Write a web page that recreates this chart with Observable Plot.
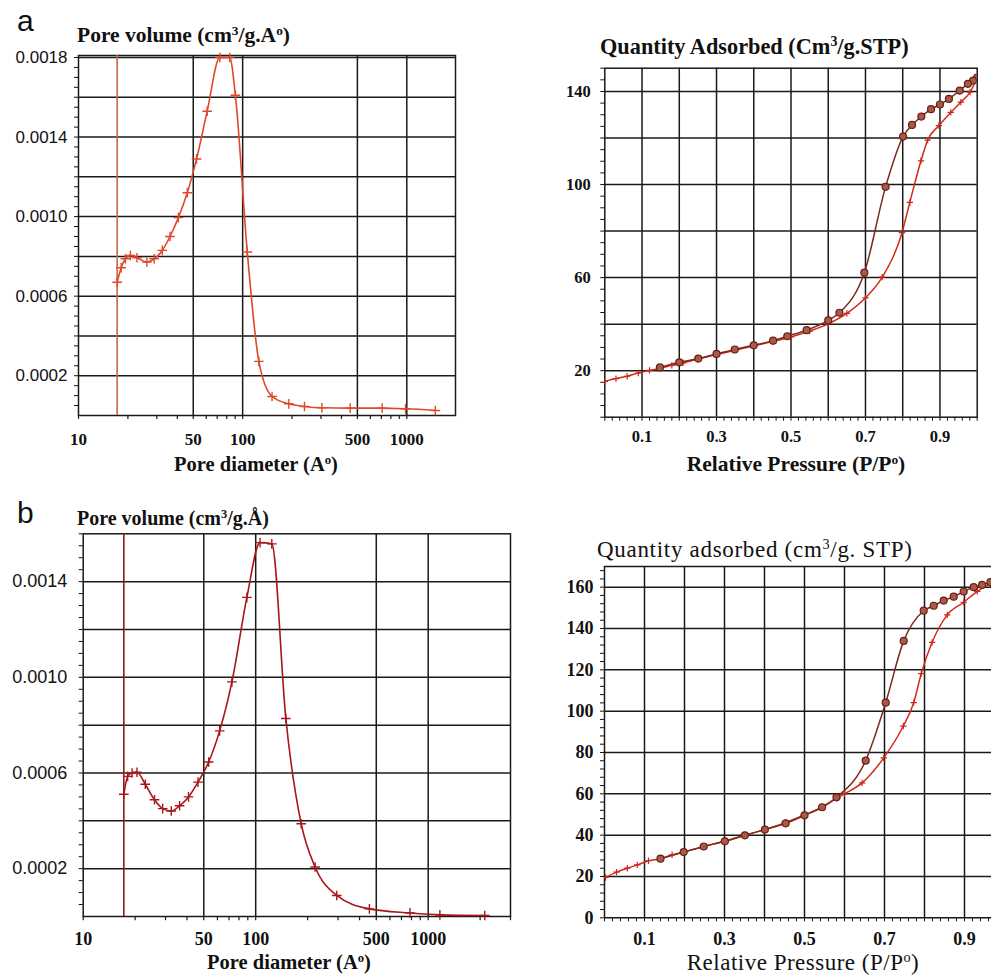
<!DOCTYPE html>
<html><head><meta charset="utf-8">
<script src="https://cdn.jsdelivr.net/npm/d3@7"></script>
<script src="https://cdn.jsdelivr.net/npm/@observablehq/plot@0.6"></script>
<style>
html,body{margin:0;padding:0;background:#fff;overflow:hidden}
#fig{position:relative;width:991px;height:975px;overflow:hidden;background:#fff}
.panel{position:absolute}
.panel svg{max-width:none !important;background:transparent !important;display:block}
.lbl{position:absolute;white-space:nowrap;line-height:1;color:#111;width:max-content}
.lbl sup{font-size:62%;vertical-align:0.55em;line-height:0}
.sans-y g[aria-label^="y-axis"] text{font-family:"Liberation Sans",Arial,sans-serif;font-weight:normal}
</style></head><body><div id="fig"></div>
<script>
// ---------- DATA ----------
// Panel a, pore size distribution
const aPoreDiameter = [17.2, 18.2, 19.3, 20.7, 22.7, 26.1, 28.9, 32.4, 36.1, 40.6, 46.0, 52.4, 60.8, 72.6, 83.4, 90.3, 106.7, 125.5, 151, 191, 238, 304, 452, 708, 982, 1493];
const aPoreVolume = [0.00067, 0.000743, 0.000788, 0.000805, 0.000793, 0.000771, 0.000788, 0.00083, 0.0009, 0.000995, 0.00112, 0.00129, 0.00153, 0.0018, 0.0018, 0.00161, 0.000822, 0.000272, 0.0000956, 0.0000587, 0.0000453, 0.0000386, 0.0000369, 0.0000369, 0.0000336, 0.0000252];
// Panel b, pore size distribution
const bPoreDiameter = [17.2, 18.1, 19.2, 20.5, 22.9, 25.9, 28.9, 32.4, 36.2, 40.8, 46.3, 53.4, 61.8, 72.8, 88.9, 106, 124, 149.5, 183.5, 221, 295, 456, 784, 1169, 2128];
const bPoreVolume = [0.000511, 0.000586, 0.0006, 0.000603, 0.000553, 0.000488, 0.000451, 0.000441, 0.000463, 0.0005, 0.000562, 0.000646, 0.000776, 0.000981, 0.001334, 0.001563, 0.001558, 0.000828, 0.000388, 0.000207, 0.000088, 0.000032, 0.000015, 0.000007, 0.000004];
// Panel a, isotherm
const aAdsP = [0.0, 0.03, 0.06, 0.09, 0.12, 0.15, 0.18, 0.21, 0.25, 0.30, 0.35, 0.40, 0.45, 0.50, 0.55, 0.60, 0.65, 0.70, 0.745, 0.798, 0.819, 0.849, 0.867, 0.897, 0.929, 0.956, 0.981, 1.0];
const aAdsQ = [15.4, 16.6, 17.6, 19.0, 20.1, 21.1, 22.3, 23.3, 25.0, 26.9, 28.8, 30.6, 32.5, 34.5, 37.0, 40.1, 44.6, 51.3, 60.2, 79.3, 92.3, 110.2, 119.1, 125.3, 131.0, 135.4, 139.7, 146.0];
const aDesP = [1.0, 0.989, 0.975, 0.953, 0.924, 0.9, 0.876, 0.85, 0.825, 0.801, 0.754, 0.697, 0.63, 0.6, 0.542, 0.49, 0.452, 0.4, 0.349, 0.3, 0.251, 0.2, 0.148];
const aDesQ = [146.0, 144.7, 143.3, 140.4, 136.8, 134.4, 132.4, 129.2, 125.6, 120.6, 99.0, 62.1, 44.9, 41.6, 37.4, 34.8, 32.9, 30.9, 29.1, 27.2, 25.2, 23.6, 21.4];
// Panel b, isotherm
const bAdsP = [0.0025, 0.03, 0.057, 0.082, 0.11, 0.14, 0.169, 0.198, 0.248, 0.298, 0.35, 0.4, 0.45, 0.498, 0.544, 0.582, 0.6, 0.644, 0.698, 0.747, 0.773, 0.792, 0.819, 0.857, 0.898, 0.932, 0.965];
const bAdsQ = [19.5, 22.1, 24.0, 25.6, 27.6, 28.6, 30.5, 31.8, 34.5, 37.0, 39.9, 42.7, 45.9, 49.6, 53.7, 58.0, 60.0, 65.3, 77.4, 92.8, 104.1, 118.2, 133.3, 146.6, 152.7, 158.0, 161.6];
const bDesP = [0.965, 0.944, 0.923, 0.898, 0.873, 0.848, 0.823, 0.798, 0.748, 0.703, 0.653, 0.58, 0.544, 0.5, 0.453, 0.401, 0.351, 0.301, 0.248, 0.198, 0.14];
const bDesQ = [162.4, 161.1, 160.0, 157.9, 155.4, 153.5, 151.0, 148.6, 134.0, 104.1, 76.1, 58.3, 53.5, 49.6, 45.7, 42.7, 39.9, 37.0, 34.5, 31.8, 28.6];

// Tick labels
const poreXLabels = [10, 50, 100, 500, 1000];
const poreXGrid = [50, 100, 500, 1000];
const aPoreYLabels = [0.0002, 0.0006, 0.0010, 0.0014, 0.0018];
const bPoreYLabels = [0.0002, 0.0006, 0.0010, 0.0014];
const poreYGrid = [0.0002, 0.0004, 0.0006, 0.0008, 0.0010, 0.0012, 0.0014, 0.0016, 0.0018];
const isoXLabels = [0.1, 0.3, 0.5, 0.7, 0.9];
const isoXGrid = [0.1, 0.2, 0.3, 0.4, 0.5, 0.6, 0.7, 0.8, 0.9];
const aIsoYLabels = [20, 60, 100, 140];
const bIsoYLabels = [0, 20, 40, 60, 80, 100, 120, 140, 160];
const isoYGrid = [20, 40, 60, 80, 100, 120, 140, 160];

// ---------- HELPERS ----------
const fig = document.getElementById("fig");
const zip = (xs, ys) => xs.map((x, i) => ({x, y: ys[i]}));
const has = (arr, d) => arr.some(v => Math.abs(v - d) < 1e-9);
const serif = '"Liberation Serif","Times New Roman",serif';

function logMinor(lo, hi) {
  const t = [];
  for (let p = 10; p <= hi; p *= 10) for (let k = 1; k < 10; k++) { const v = p * k; if (v >= lo && v <= hi) t.push(v); }
  return t;
}

function place(svg, left, top, cls) {
  const d = document.createElement("div");
  d.className = "panel " + (cls || "");
  d.style.left = left + "px"; d.style.top = top + "px";
  d.appendChild(svg); fig.appendChild(d);
}
function lbl(html, x, y, o = {}) {
  const d = document.createElement("div");
  d.className = "lbl";
  d.innerHTML = html;
  d.style.left = x + "px"; d.style.top = y + "px";
  d.style.fontFamily = o.family || serif;
  d.style.fontSize = (o.size || 20) + "px";
  d.style.fontWeight = o.weight || "bold";
  if (o.ls) d.style.letterSpacing = o.ls + "px";
  d.style.transform = `translate(${o.anchor === "middle" ? "-50%" : "0"}, -50%)`;
  fig.appendChild(d);
}

function porePlot({width, height, ml, mr, mt, mb, xmax, ymax, data, color, vcolor, yLabels, fs, xgap, ypad}) {
  const step = 0.00005;
  const yMinor = d3.range(1, Math.floor(ymax / step + 1e-6) + 1).map(k => k * step);
  const tickLen = ymax * 0.011;
  return Plot.plot({
    width, height, marginLeft: ml, marginRight: mr, marginTop: mt, marginBottom: mb,
    style: {fontFamily: serif, fontSize: fs + "px", fontWeight: "bold", color: "#111", background: "transparent"},
    x: {type: "log", domain: [10, xmax], axis: null},
    y: {domain: [0, ymax], ticks: yMinor, tickSize: 4, tickPadding: ypad,
        tickFormat: d => has(yLabels, d) ? d.toFixed(4) : "", label: null},
    marks: [
      Plot.ruleX(poreXGrid, {stroke: "#1a1a1a", strokeWidth: 1.5}),
      Plot.ruleY(poreYGrid.filter(v => v < ymax), {stroke: "#1a1a1a", strokeWidth: 1.5}),
      Plot.frame({stroke: "#1a1a1a", strokeWidth: 1.5}),
      Plot.ruleX(logMinor(10, xmax), {x: d => d, y1: 0, y2: -tickLen, stroke: "#1a1a1a", strokeWidth: 1.2}),
      Plot.ruleX([data[0].x], {stroke: vcolor, strokeWidth: 1.6}),
      Plot.line(data, {x: "x", y: "y", stroke: color, strokeWidth: 1.6, curve: "monotone-x"}),
      Plot.dot(data, {x: "x", y: "y", symbol: "plus", r: 3.2, stroke: color, strokeWidth: 1.4}),
      Plot.text(poreXLabels, {x: d => d, y: 0, text: d => String(d), dy: xgap + fs * 0.5,
        fontSize: fs, fontWeight: "bold", fill: "#111", textAnchor: "middle"})
    ]
  });
}

function isoPlot({width, height, ml, mr, mt, mb, xmax, ymax, ads, des, yLabels, yStep, fs, xpad, ypad, frame}) {
  const xMinor = d3.range(0, Math.floor(xmax / 0.02 + 1e-6) + 1).map(k => +(k * 0.02).toFixed(2));
  const yMinor = d3.range(0, Math.floor(ymax / yStep + 1e-6) + 1).map(k => +(k * yStep).toFixed(2));
  const borders = frame
    ? [Plot.frame({stroke: "#1a1a1a", strokeWidth: 1.5})]
    : [Plot.ruleX([0], {stroke: "#1a1a1a", strokeWidth: 1.5}), Plot.ruleY([0, ymax], {stroke: "#1a1a1a", strokeWidth: 1.5})];
  return Plot.plot({
    width, height, marginLeft: ml, marginRight: mr, marginTop: mt, marginBottom: mb,
    style: {fontFamily: serif, fontSize: fs + "px", fontWeight: "bold", color: "#111", background: "transparent"},
    x: {domain: [0, xmax], ticks: xMinor, tickSize: 4, tickPadding: xpad,
        tickFormat: d => has(isoXLabels, d) ? String(d) : "", label: null},
    y: {domain: [0, ymax], ticks: yMinor, tickSize: 4, tickPadding: ypad,
        tickFormat: d => has(yLabels, d) ? String(d) : "", label: null},
    marks: [
      Plot.ruleX(isoXGrid.filter(v => v < xmax), {stroke: "#1a1a1a", strokeWidth: 1.5}),
      Plot.ruleY(isoYGrid.filter(v => v < ymax), {stroke: "#1a1a1a", strokeWidth: 1.5}),
      ...borders,
      Plot.line(ads, {x: "x", y: "y", stroke: "#d42a1c", strokeWidth: 1.5, curve: "monotone-x", clip: true}),
      Plot.line(des, {x: "x", y: "y", stroke: "#7a2a1e", strokeWidth: 1.5, curve: "monotone-x", clip: true}),
      Plot.dot(ads, {x: "x", y: "y", symbol: "plus", r: 2.2, stroke: "#c8281a", strokeWidth: 1.2, clip: true}),
      Plot.dot(des, {x: "x", y: "y", r: 3.5, fill: "#a85a48", stroke: "#6a1e14", strokeWidth: 1.2, clip: true})
    ]
  });
}

// ---------- PANELS ----------
place(porePlot({width: 480, height: 480, ml: 78, mr: 25, mt: 55, mb: 65, xmax: 1980, ymax: 0.00181,
  data: zip(aPoreDiameter, aPoreVolume), color: "#e0482a", vcolor: "#c8684a", yLabels: aPoreYLabels,
  fs: 17, xgap: 16, ypad: 7}), 0, 0, "sans-y");

place(isoPlot({width: 511, height: 480, ml: 124.3, mr: 14.3, mt: 67.7, mb: 63.3, xmax: 1, ymax: 150,
  ads: zip(aAdsP, aAdsQ), des: zip(aDesP, aDesQ), yLabels: aIsoYLabels, yStep: 5, fs: 16.5,
  xpad: 9, ypad: 10, frame: true}), 480, 0);

place(porePlot({width: 530, height: 495, ml: 82.7, mr: 20, mt: 53.3, mb: 59, xmax: 3000, ymax: 0.0016,
  data: zip(bPoreDiameter, bPoreVolume), color: "#a8161a", vcolor: "#8a1c1c", yLabels: bPoreYLabels,
  fs: 18, xgap: 14, ypad: 12}), 0, 480, "sans-y");

place(isoPlot({width: 461, height: 495, ml: 74, mr: 0, mt: 86, mb: 57.7, xmax: 0.9675, ymax: 170,
  ads: zip(bAdsP, bAdsQ), des: zip(bDesP, bDesQ), yLabels: bIsoYLabels, yStep: 4, fs: 18,
  xpad: 10, ypad: 7, frame: false}), 530, 480);

// ---------- TEXT ----------
lbl("a", 17, 21, {family: '"Liberation Sans",Arial,sans-serif', size: 30, weight: "normal"});
lbl("b", 17, 513, {family: '"Liberation Sans",Arial,sans-serif', size: 30, weight: "normal"});
lbl("Pore volume (cm<sup>3</sup>/g.A<sup>o</sup>)", 77, 36, {size: 21.5});
lbl("Pore diameter (A<sup>o</sup>)", 256, 464, {size: 20.5, anchor: "middle"});
lbl("Quantity Adsorbed (Cm<sup>3</sup>/g.STP)", 600, 47, {size: 22.3});
lbl("Relative Pressure (P/P<sup>o</sup>)", 796, 465, {size: 21.5, anchor: "middle"});
lbl("Pore volume (cm<sup>3</sup>/g.Å)", 77, 518, {size: 20});
lbl("Pore diameter (A<sup>o</sup>)", 289, 962, {size: 20.5, anchor: "middle"});
lbl("Quantity adsorbed (cm<sup>3</sup>/g. STP)", 597, 549, {size: 23, weight: "normal", ls: 0.7});
lbl("Relative Pressure (P/P<sup>o</sup>)", 803, 962, {size: 23, weight: "normal", ls: 0.5, anchor: "middle"});
</script></body></html>
